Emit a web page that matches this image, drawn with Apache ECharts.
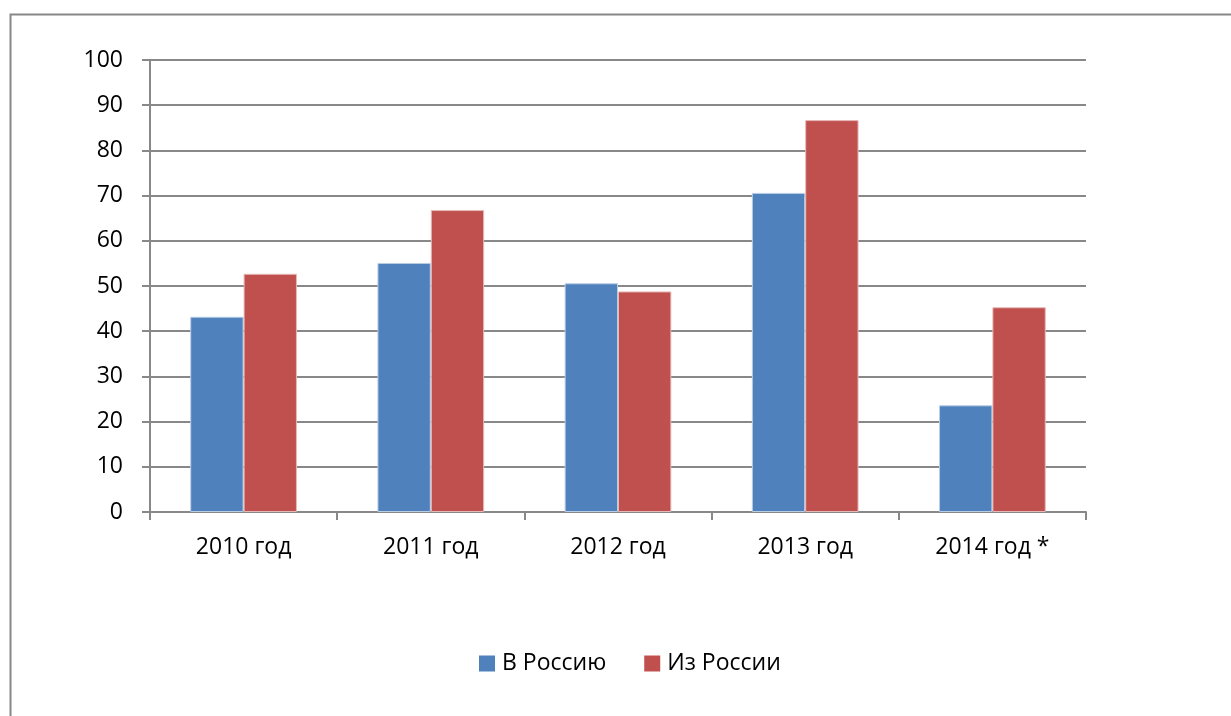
<!DOCTYPE html>
<html>
<head>
<meta charset="utf-8">
<script src="https://cdn.jsdelivr.net/npm/echarts@6/dist/echarts.min.js"></script>
<style>
  html, body { margin: 0; padding: 0; background: #fff; }
  #chart { width: 1231px; height: 716px; }
</style>
</head>
<body>
<div id="chart"></div>
<script>
var categories = ["2010 год", "2011 год", "2012 год", "2013 год", "2014 год *"];
var toRussia = [43.2, 55.1, 50.6, 70.6, 23.6];
var fromRussia = [52.7, 66.8, 48.8, 86.7, 45.3];
var seriesNames = ["В Россию", "Из России"];

var font = "'Open Sans', 'Noto Sans', sans-serif";

var option = {
  backgroundColor: "#fff",
  animation: false,
  graphic: [
    {
      type: "rect",
      left: 8,
      top: 12,
      shape: { width: 1300, height: 800 },
      style: { fill: "none", stroke: "#888", lineWidth: 2 }
    }
  ],
  legend: {
    top: 647,
    left: 474,
    itemWidth: 16,
    itemHeight: 16,
    itemGap: 38,
    icon: "rect",
    itemStyle: { borderWidth: 0 },
    textStyle: { fontFamily: font, fontSize: 23, color: "#000", padding: [0, 0, 0, 2] },
    data: seriesNames
  },
  grid: {
    top: 60,
    left: 150,
    width: 936,
    height: 452,
    containLabel: false
  },
  xAxis: {
    type: "category",
    data: categories,
    axisLine: { lineStyle: { color: "#888", width: 2 } },
    axisTick: { show: true, length: 8, lineStyle: { color: "#888", width: 2 } },
    axisLabel: { fontFamily: font, fontSize: 23, color: "#000", margin: 24 }
  },
  yAxis: {
    type: "value",
    min: 0,
    max: 100,
    interval: 10,
    axisLine: { show: true, lineStyle: { color: "#888", width: 2 } },
    axisTick: { show: true, length: 8, lineStyle: { color: "#888", width: 2 } },
    axisLabel: { fontFamily: font, fontSize: 23, color: "#000", margin: 27 },
    splitLine: { show: true, lineStyle: { color: "#888", width: 2 } }
  },
  series: [
    {
      name: seriesNames[0],
      type: "bar",
      data: toRussia,
      barGap: "0%",
      barCategoryGap: "43%",
      itemStyle: { color: "#4F81BD", borderColor: "#B9CDE5", borderWidth: 1 }
    },
    {
      name: seriesNames[1],
      type: "bar",
      data: fromRussia,
      itemStyle: { color: "#C0504D", borderColor: "#E6B9B8", borderWidth: 1 }
    }
  ]
};

var dom = echarts.init(document.getElementById("chart"));
dom.setOption(option);
</script>
</body>
</html>
